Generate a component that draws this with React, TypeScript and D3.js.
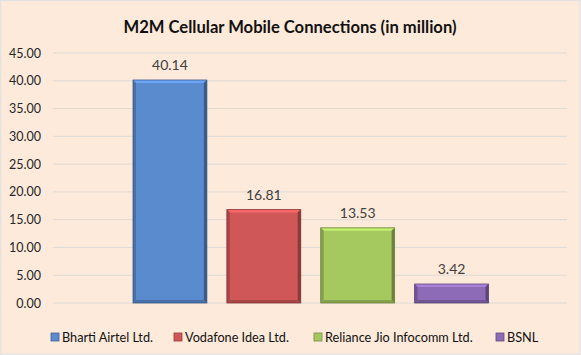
import React from "react";
import * as d3 from "d3";

const series = ["Bharti Airtel Ltd.", "Vodafone Idea Ltd.", "Reliance Jio Infocomm Ltd.", "BSNL"];
const values = [40.14, 16.81, 13.53, 3.42];
const yTicks = [0, 5, 10, 15, 20, 25, 30, 35, 40, 45];
const baseColors = ["#5A8BCF", "#D05757", "#A5C85F", "#8D6BB6"];
const title = "M2M Cellular Mobile Connections (in million)";

const W = 581;
const H = 355;
const FONT = "Lato, 'Open Sans', sans-serif";

export default function App() {
  const plotLeft = 53;
  const plotRight = 567;
  const y = d3.scaleLinear().domain([0, 45]).range([303, 53]);
  const x = d3.scaleBand<string>().domain(series).range([133, 488.5]).paddingInner(0.213).paddingOuter(0);
  const bw = x.bandwidth();
  const bev = 3;
  const legendX = [51, 174, 314, 496];

  return (
    <svg width={W} height={H} style={{ position: "absolute", left: 0, top: 0 }} fontFamily={FONT}>
      <rect x={0.5} y={0.5} width={W - 1.5} height={H - 1.5} fill="#FDEADA" stroke="#E4E2E0" strokeWidth={1.5} />
      <text x={290} y={32.5} textAnchor="middle" fontSize={16.6} fontWeight="bold" fill="#111">
        {title}
      </text>
      {yTicks.map((t) => (
        <g key={t}>
          <line x1={plotLeft} x2={plotRight} y1={y(t)} y2={y(t)} stroke="#DEDAD6" strokeWidth={1} />
          <text x={41} y={y(t) + 4.5} textAnchor="end" fontSize={12.5} fill="#262626">
            {t.toFixed(2)}
          </text>
        </g>
      ))}
      {series.map((s, i) => {
        const x0 = x(s) as number;
        const x1 = x0 + bw;
        const y0 = y(values[i]);
        const y1 = y(0);
        const c = d3.color(baseColors[i])!;
        const light = d3.color(baseColors[i])!.brighter(0.5).formatHex();
        const dark = d3.color(baseColors[i])!.darker(1.2).formatHex();
        const mid = d3.color(baseColors[i])!.darker(0.6).formatHex();
        return (
          <g key={s}>
            <rect x={x0} y={y0} width={bw} height={y1 - y0} fill={c.formatHex()} />
            <polygon
              points={`${x0},${y0} ${x1},${y0} ${x1 - bev},${y0 + bev} ${x0 + bev},${y0 + bev}`}
              fill={light}
            />
            <polygon
              points={`${x0},${y0} ${x0 + bev},${y0 + bev} ${x0 + bev},${y1 - bev} ${x0},${y1}`}
              fill={mid}
            />
            <polygon
              points={`${x1},${y0} ${x1},${y1} ${x1 - bev},${y1 - bev} ${x1 - bev},${y0 + bev}`}
              fill={dark}
            />
            <polygon
              points={`${x0},${y1} ${x1},${y1} ${x1 - bev},${y1 - bev} ${x0 + bev},${y1 - bev}`}
              fill={mid}
            />
            <rect x={x0} y={y0} width={bw} height={y1 - y0} fill="none" stroke={dark} strokeWidth={0.8} />
            <text x={x0 + bw / 2} y={y0 - 10} textAnchor="middle" fontSize={14} fill="#404040">
              {values[i].toFixed(2)}
            </text>
          </g>
        );
      })}
      {series.map((s, i) => (
        <g key={"lg" + s} transform={`translate(${legendX[i]},333)`}>
          <rect x={0} y={0} width={8} height={8} fill={baseColors[i]} stroke={d3.color(baseColors[i])!.darker(1).formatHex()} strokeWidth={0.8} />
          <text x={11} y={8.5} fontSize={12.7} fill="#111">
            {s}
          </text>
        </g>
      ))}
    </svg>
  );
}
